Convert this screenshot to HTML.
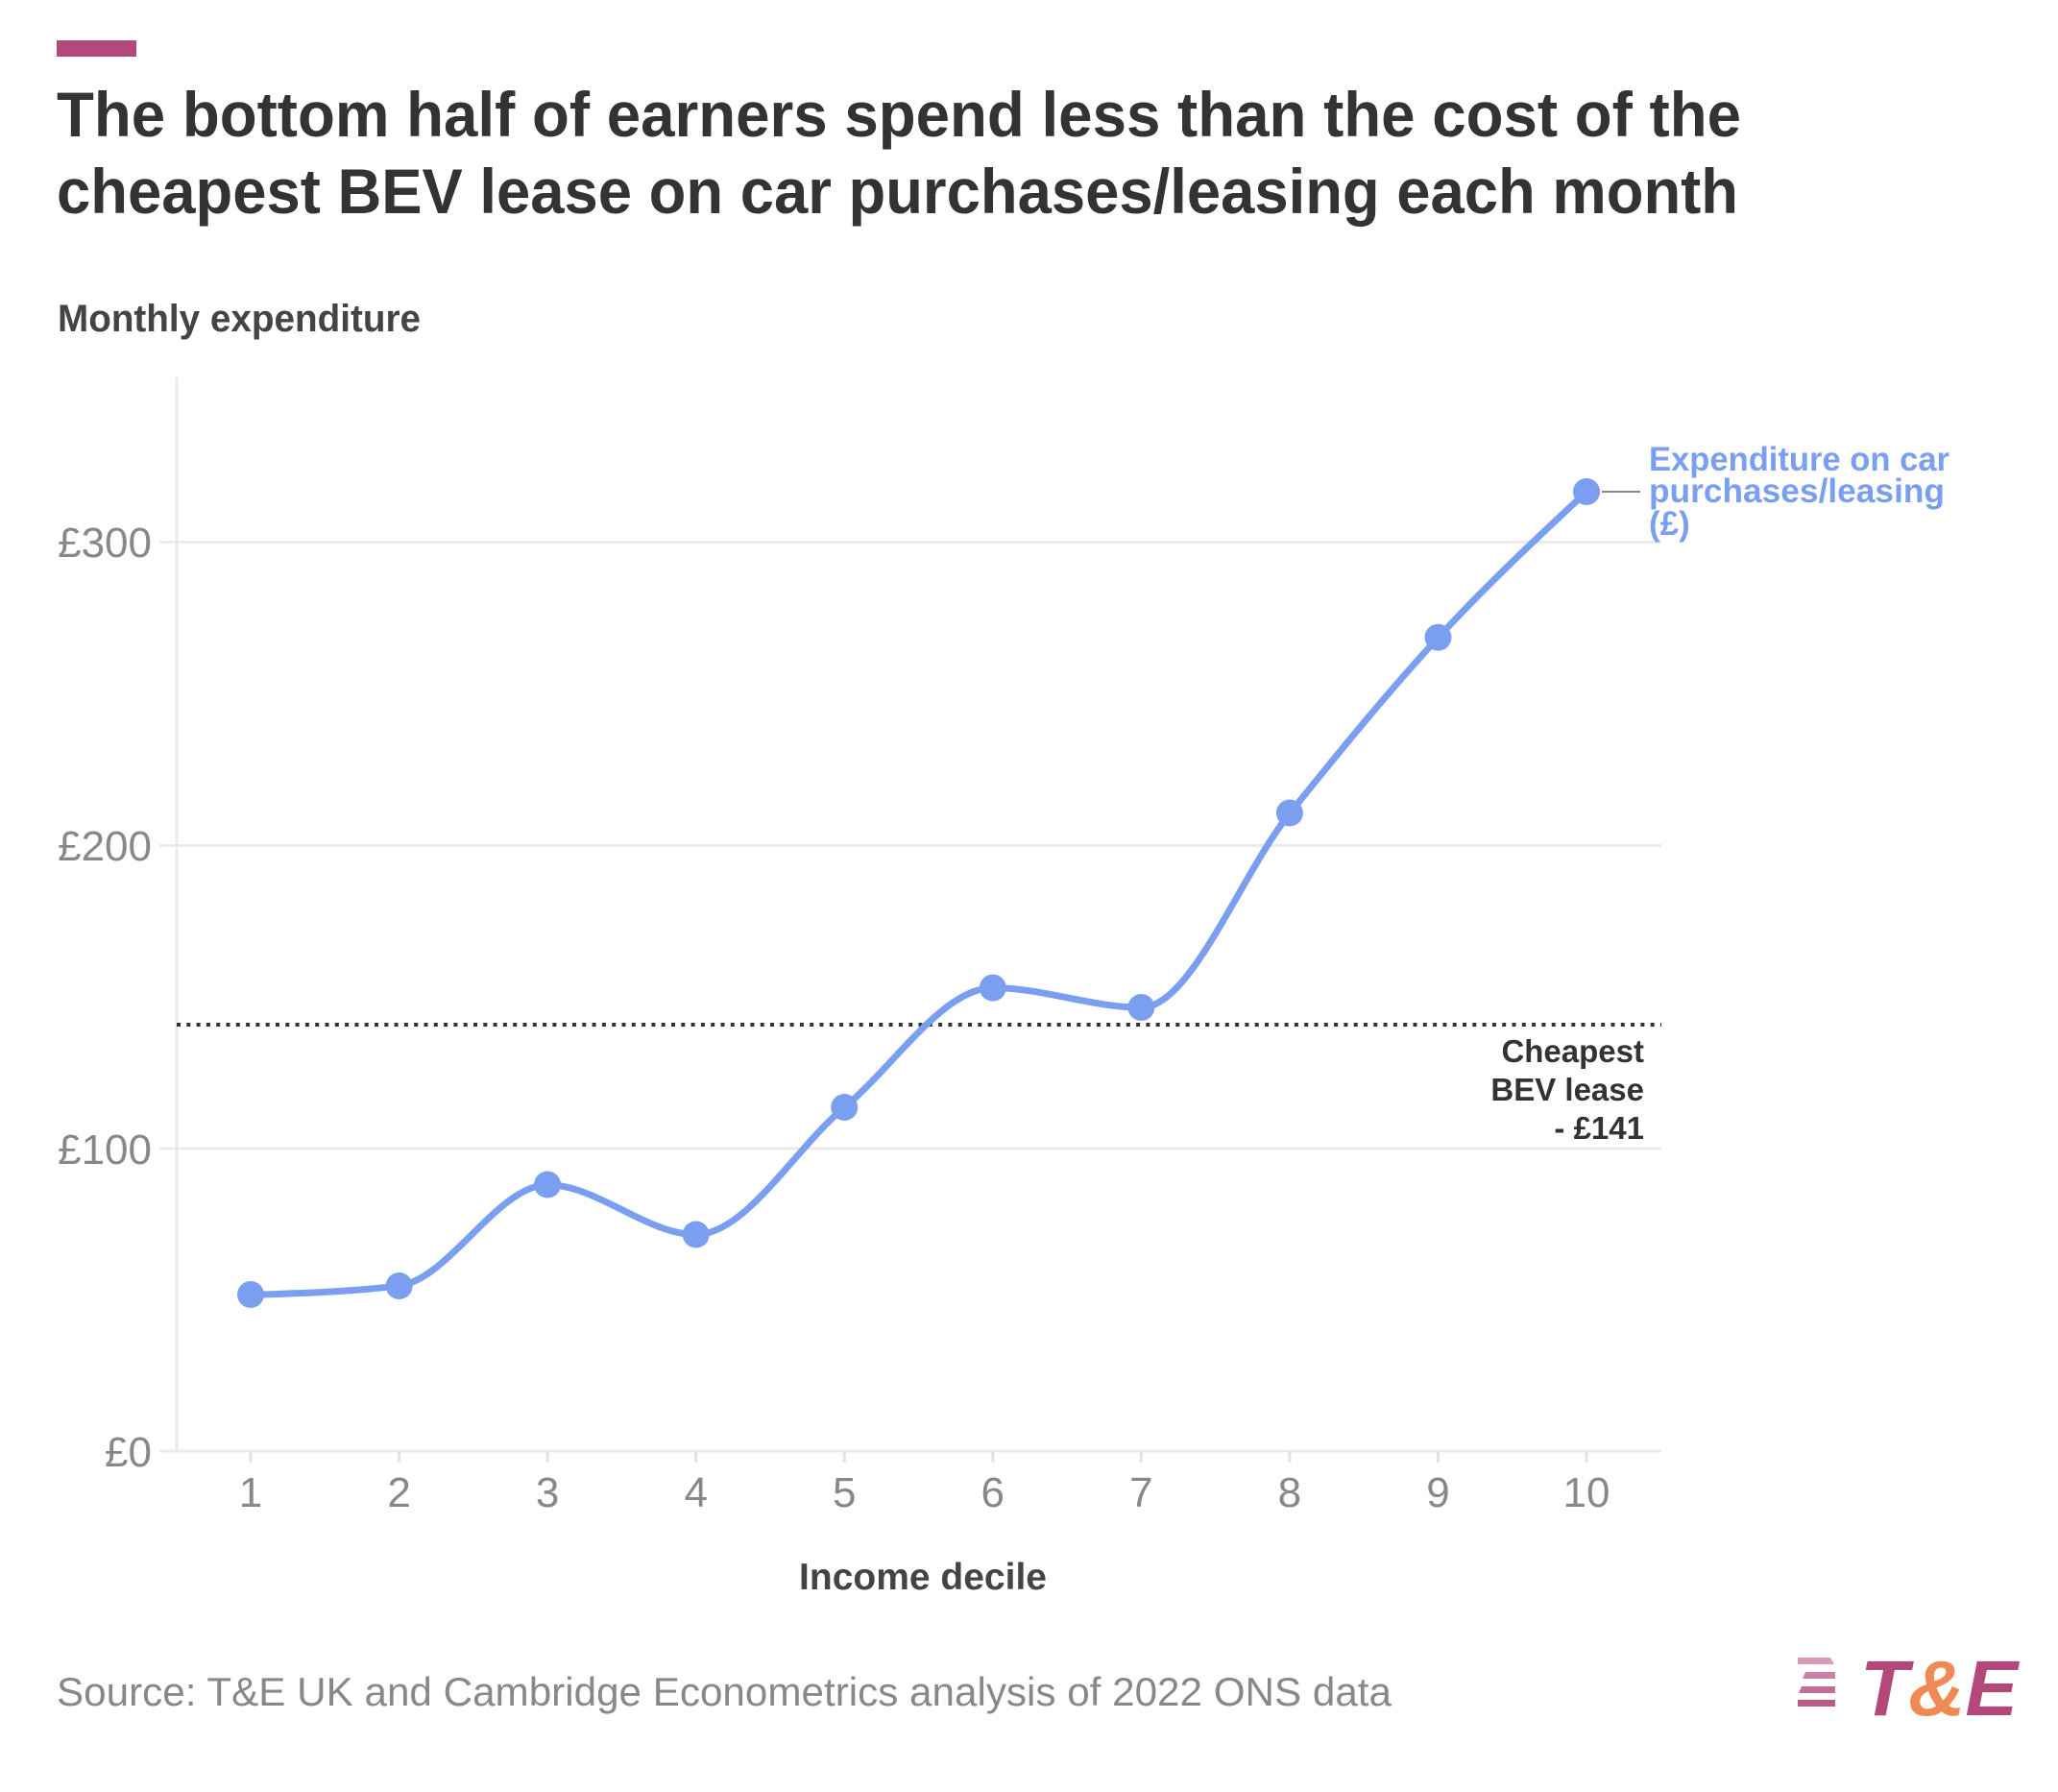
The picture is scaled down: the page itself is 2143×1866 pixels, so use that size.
<!DOCTYPE html>
<html><head><meta charset="utf-8">
<style>
html,body{margin:0;padding:0;background:#fff;}
svg{display:block;}
text{font-family:"Liberation Sans Narrow","Liberation Sans",sans-serif;}
</style></head>
<body>
<svg width="2143" height="1866" viewBox="0 0 2143 1866" xmlns="http://www.w3.org/2000/svg">
<rect width="2143" height="1866" fill="#fff"/>
<rect x="59" y="42" width="83" height="17" fill="#b5487a"/>
<text x="59" y="142" font-size="66" font-weight="bold" fill="#333" textLength="1754" lengthAdjust="spacingAndGlyphs">The bottom half of earners spend less than the cost of the</text>
<text x="59" y="222" font-size="66" font-weight="bold" fill="#333" textLength="1751" lengthAdjust="spacingAndGlyphs">cheapest BEV lease on car purchases/leasing each month</text>
<text x="60" y="345" font-size="40" font-weight="bold" fill="#444" textLength="378" lengthAdjust="spacingAndGlyphs">Monthly expenditure</text>

<g stroke="#ebebeb" stroke-width="3">
<line x1="166" y1="564.5" x2="1730" y2="564.5"/>
<line x1="166" y1="880.5" x2="1730" y2="880.5"/>
<line x1="166" y1="1196" x2="1730" y2="1196"/>
<line x1="166" y1="1511" x2="1730" y2="1511"/>
<line x1="184" y1="393" x2="184" y2="1511"/>
</g>
<g stroke="#e3e3e3" stroke-width="3">
<line x1="261" y1="1511" x2="261" y2="1523"/><line x1="415.6" y1="1511" x2="415.6" y2="1523"/>
<line x1="570.1" y1="1511" x2="570.1" y2="1523"/><line x1="724.7" y1="1511" x2="724.7" y2="1523"/>
<line x1="879.2" y1="1511" x2="879.2" y2="1523"/><line x1="1033.8" y1="1511" x2="1033.8" y2="1523"/>
<line x1="1188.4" y1="1511" x2="1188.4" y2="1523"/><line x1="1342.9" y1="1511" x2="1342.9" y2="1523"/>
<line x1="1497.5" y1="1511" x2="1497.5" y2="1523"/><line x1="1652" y1="1511" x2="1652" y2="1523"/>
</g>
<g font-size="44" fill="#888" text-anchor="end">
<text x="158" y="580">£300</text>
<text x="158" y="896">£200</text>
<text x="158" y="1212">£100</text>
<text x="158" y="1527">£0</text>
</g>
<g font-size="44" fill="#888" text-anchor="middle">
<text x="261" y="1569">1</text><text x="415.6" y="1569">2</text><text x="570.1" y="1569">3</text>
<text x="724.7" y="1569">4</text><text x="879.2" y="1569">5</text><text x="1033.8" y="1569">6</text>
<text x="1188.4" y="1569">7</text><text x="1342.9" y="1569">8</text><text x="1497.5" y="1569">9</text>
<text x="1652" y="1569">10</text>
</g>
<text x="961" y="1655" font-size="39" font-weight="bold" fill="#444" text-anchor="middle">Income decile</text>

<line x1="184" y1="1067" x2="1730" y2="1067" stroke="#333" stroke-width="4" stroke-dasharray="4 6.3"/>
<g font-size="33" font-weight="bold" fill="#333" text-anchor="end">
<text x="1712" y="1106">Cheapest</text>
<text x="1712" y="1146">BEV lease</text>
<text x="1712" y="1186">- £141</text>
</g>

<path transform="translate(261,1511) scale(0.99524,0.9959) translate(-261,-1518)" fill="none" stroke="#7b9ff0" stroke-width="7" stroke-linejoin="round" stroke-linecap="round"
d="M261,1354.7 C312.8,1353.1 364.5,1351.5 416.3,1345.2 C468.1,1338.9 519.9,1239.6 571.7,1239.6 C623.5,1239.6 675.2,1291.6 727,1291.6 C778.8,1291.6 830.5,1201.5 882.3,1158.5 C934.1,1115.5 985.9,1033.6 1037.7,1033.6 C1089.5,1033.6 1141.2,1054.2 1193,1054.2 C1244.8,1054.2 1296.5,915.6 1348.3,851.1 C1400.1,786.6 1451.9,723.3 1503.7,667.2 C1555.5,611.1 1607.2,562.9 1659,514.7"/>
<g fill="#7b9ff0">
<circle cx="261" cy="1348" r="14"/><circle cx="415.6" cy="1339" r="14"/><circle cx="570.1" cy="1233.5" r="14"/>
<circle cx="724.7" cy="1285.5" r="14"/><circle cx="879.2" cy="1153" r="14"/><circle cx="1033.8" cy="1028.6" r="14"/>
<circle cx="1188.4" cy="1049" r="14"/><circle cx="1342.9" cy="846.5" r="14"/><circle cx="1497.5" cy="663.7" r="14"/>
<circle cx="1652" cy="512" r="14"/>
</g>
<line x1="1668" y1="512" x2="1708" y2="512" stroke="#888" stroke-width="2"/>
<g font-size="35" font-weight="bold" fill="#7b9ff0">
<text x="1717" y="490" textLength="313" lengthAdjust="spacingAndGlyphs">Expenditure on car</text>
<text x="1717" y="523" textLength="308" lengthAdjust="spacingAndGlyphs">purchases/leasing</text>
<text x="1717" y="557">(£)</text>
</g>

<text x="59" y="1776" font-size="42" fill="#888" textLength="1390" lengthAdjust="spacingAndGlyphs">Source: T&amp;E UK and Cambridge Econometrics analysis of 2022 ONS data</text>

<g fill="#b5487a">
<polygon points="1872,1726 1906,1726 1910,1733 1872,1733" opacity="0.55"/>
<polygon points="1880,1741 1911,1741 1911,1748 1877,1748" opacity="0.7"/>
<polygon points="1876,1756 1911,1756 1911,1763 1873,1763" opacity="0.8"/>
<polygon points="1872,1770 1911,1770 1911,1777 1872,1777" opacity="0.9"/>
</g>
<text x="1937" y="1786" font-family="Liberation Sans" font-size="82" font-weight="bold" font-style="italic" fill="#b5487a">T<tspan fill="#ef8a55">&amp;</tspan>E</text>
</svg>
</body></html>
